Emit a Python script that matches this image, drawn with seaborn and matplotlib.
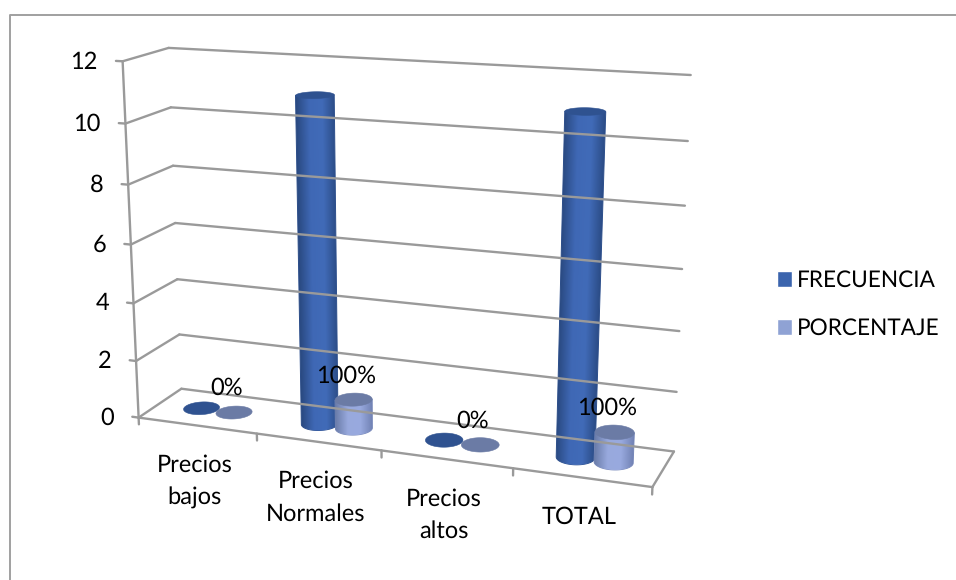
import numpy as np
import pandas as pd
import seaborn as sns
import matplotlib.pyplot as plt
from matplotlib.patches import Patch, Polygon

# Survey results per price perception
categories = ["Precios\nbajos", "Precios\nNormales", "Precios\naltos", "TOTAL"]
frecuencia = [0, 11, 0, 11]
porcentaje = [0, 1, 0, 1]
etiquetas = ["0%", "100%", "0%", "100%"]
value_ticks = [0, 2, 4, 6, 8, 10, 12]

# Camera calibration: box corner (category, depth, value) -> canvas position
box_points = np.array([
    (0, 0, 0), (0, 0, 12), (0, 1, 0), (0, 1, 12), (4, 1, 0), (4, 1, 12),
    (4, 0, 0), (1, 0, 0), (2, 0, 0), (3, 0, 0), (4, 1, 6), (0, 1, 6), (0, 0, 6),
], float)
canvas_points = np.array([
    (139, 417), (122, 62), (181, 390), (169, 48), (674, 450), (691, 75),
    (652, 488), (257, 433), (382, 451), (513, 469), (682, 269), (175, 223), (131, 243),
], float)


def fit_camera(world, image):
    rows, rhs = [], []
    for (x, y, z), (u, v) in zip(world, image):
        rows.append([x, y, z, 1, 0, 0, 0, 0, -u * x, -u * y, -u * z])
        rows.append([0, 0, 0, 0, x, y, z, 1, -v * x, -v * y, -v * z])
        rhs += [u, v]
    sol = np.linalg.lstsq(np.array(rows), np.array(rhs), rcond=None)[0]
    return np.append(sol, 1.0).reshape(3, 4)


CAMERA = fit_camera(box_points, canvas_points)


def project(cat, depth, value):
    cat, depth, value = np.broadcast_arrays(np.asarray(cat, float),
                                            np.asarray(depth, float),
                                            np.asarray(value, float))
    h = CAMERA @ np.stack([cat, depth, value, np.ones_like(cat)])
    return h[0] / h[2], h[1] / h[2]


sns.set_theme(style="white")
plt.rcParams["font.family"] = ["Lato", "DejaVu Sans"]
plt.rcParams["text.hinting"] = "no_hinting"

FONT = 17
LEGEND_FONT = 16.3
GRID = "#9a9a9a"
fig = plt.figure(figsize=(9.56, 5.8), dpi=100)
ax = fig.add_axes([0, 0, 1, 1])

# Outer chart frame
ax.plot([10.5, 10.5, 956], [580, 14.5, 14.5], color="#a0a0a0", lw=1.4)


def seg(a, b, lw=1.7):
    xs, ys = project([a[0], b[0]], [a[1], b[1]], [a[2], b[2]])
    ax.plot(xs, ys, color=GRID, lw=lw, solid_capstyle="round", snap=False)


# Walls, floor and axes
for v in value_ticks:
    seg((0, 0, v), (0, 1, v))
    seg((0, 1, v), (4, 1, v))
    seg((-0.055, 0, v), (0, 0, v))
    px, py = project(-0.055, 0, v)
    ax.text(px - 18, py + 1, str(v), ha="right", va="center", fontsize=FONT, color="black")
seg((0, 0, 0), (0, 0, 12))
seg((0, 0, 0), (4, 0, 0))
seg((4, 0, 0), (4, 1, 0))
for k in range(5):
    seg((k, 0, 0), (k, 0, -0.24))

# Category labels under the front edge
for k, name in enumerate(categories):
    px, py = project(k + 0.5, 0, 0)
    ax.text(px - 2.5, py + 28.5, name, ha="center", va="top", fontsize=FONT,
            color="black", linespacing=1.62)

# Cylinder geometry in box units
OFFSET = 0.14
RX = 0.138
RD = 0.205
DEPTH = 0.5
theta = np.linspace(0, 2 * np.pi, 721)[:-1]
shade_f = sns.blend_palette(["#2a4a82", "#3f68b5", "#416bb8", "#2b4c86"], 64, as_cmap=True)
shade_p = sns.blend_palette(["#6a7ca9", "#98a9dd", "#99aadf", "#7081b3"], 64, as_cmap=True)


def draw_cylinder(center, value, cmap, cap_color, edge_color):
    cx = center + RX * np.cos(theta)
    cd = DEPTH + RD * np.sin(theta)
    top_x, top_y = project(cx, cd, value)
    if value > 0:
        low_x, low_y = project(cx, cd, 0)
        start = int(np.argmin(low_x))
        end = int(np.argmax(low_x))
        idx = np.arange(start, end + 1 if end > start else end + 720) % 720
        tl, tr = int(np.argmin(top_x)), int(np.argmax(top_x))
        outline = np.vstack([np.column_stack([low_x[idx], low_y[idx]]),
                             [[top_x[tr], top_y[tr]], [top_x[tl], top_y[tl]]]])
        # Horizontal shading that follows the side edges from base to top
        x0, x1 = outline[:, 0].min() - 1, outline[:, 0].max() + 1
        y0, y1 = outline[:, 1].min() - 1, outline[:, 1].max() + 1
        gx = np.linspace(x0, x1, int((x1 - x0) * 3))
        gy = np.linspace(y0, y1, int((y1 - y0) * 2))
        xx, yy = np.meshgrid(gx, gy)
        w = np.clip((low_y[start] - yy) / (low_y[start] - top_y[tl]), 0, 1)
        left = low_x[start] + w * (top_x[tl] - low_x[start])
        right = low_x[end] + w * (top_x[tr] - low_x[end])
        frac = np.clip((xx - left) / (right - left), 0, 1)
        shell = Polygon(outline, closed=True, facecolor="none", edgecolor=edge_color, lw=0.7)
        ax.add_patch(shell)
        image = ax.imshow(frac, cmap=cmap, vmin=0, vmax=1, extent=(x0, x1, y1, y0),
                          origin="upper", aspect="auto", interpolation="bilinear",
                          zorder=shell.get_zorder() - 0.01)
        image.set_clip_path(shell)
        # imshow draws below the patch zorder; keep later marks stacked on top
        shell.set_zorder(image.get_zorder())
    ax.add_patch(Polygon(np.column_stack([top_x, top_y]), closed=True,
                         facecolor=cap_color, edgecolor=cap_color, lw=0.4))


table = pd.DataFrame({"frecuencia": frecuencia, "porcentaje": porcentaje, "etiqueta": etiquetas})
for k, row in table.iterrows():
    draw_cylinder(k + 0.5 - OFFSET, row["frecuencia"], shade_f, "#2f5290", "#2e5190")
    draw_cylinder(k + 0.5 + OFFSET, row["porcentaje"], shade_p, "#6b7ba5", "#7a8bbd")

# Value labels above the second series
for k, row in table.iterrows():
    px, py = project(k + 0.5 + OFFSET, DEPTH, row["porcentaje"])
    ax.text(px - 7.5, py - 24, row["etiqueta"], ha="center", va="center",
            fontsize=FONT, color="black", zorder=10)

legend_handles = [Patch(facecolor="#3b64ad", label="FRECUENCIA"),
                  Patch(facecolor="#8fa2d4", label="PORCENTAJE")]
ax.legend(handles=legend_handles, loc="center left", bbox_to_anchor=(777, 304.5),
          bbox_transform=ax.transData, frameon=False, fontsize=LEGEND_FONT,
          handlelength=0.66, handleheight=0.66, handletextpad=0.24,
          borderaxespad=0, borderpad=0, labelspacing=1.2, labelcolor="black")

ax.set_xlim(0, 956)
ax.set_ylim(580, 0)
ax.axis("off")

fig.savefig("out.png", dpi=100)
